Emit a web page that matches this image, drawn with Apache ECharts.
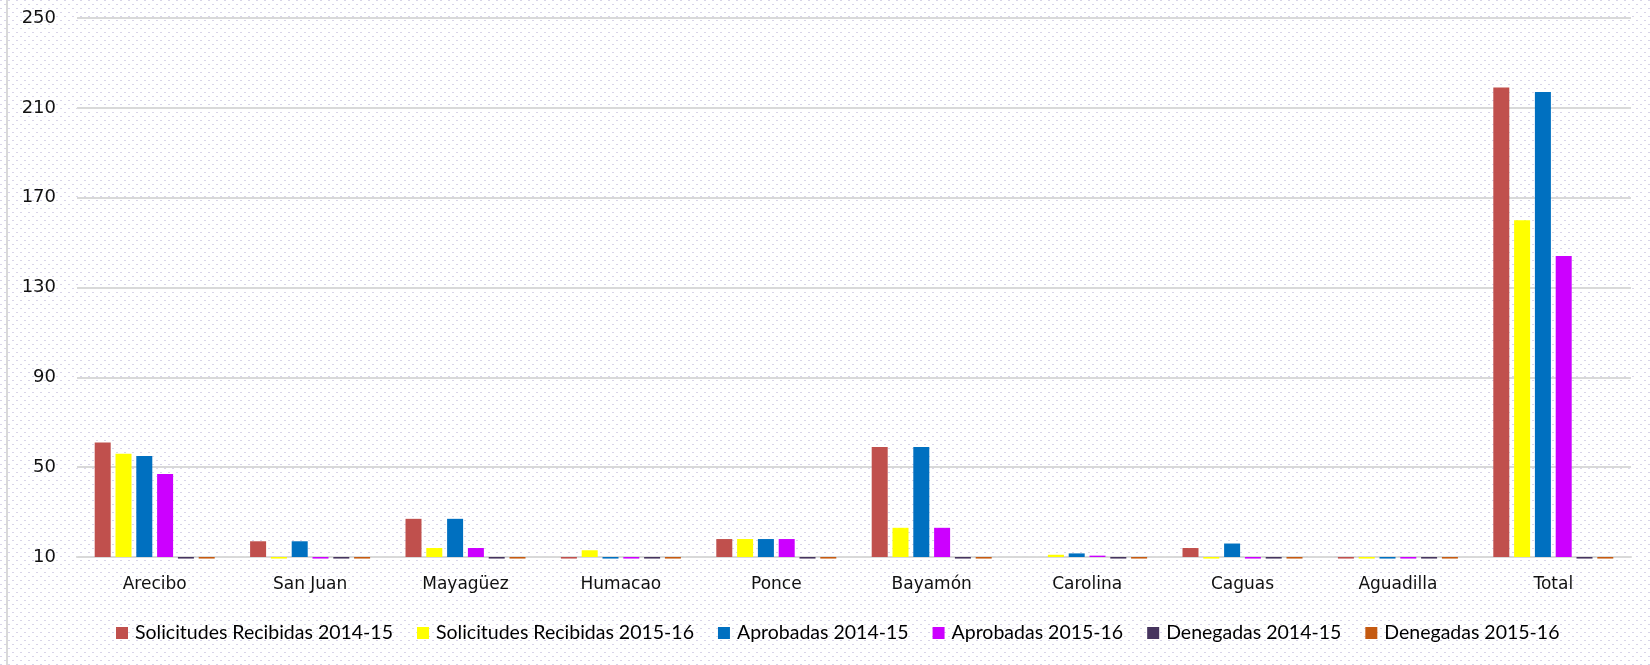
<!DOCTYPE html>
<html>
<head>
<meta charset="utf-8">
<script src="https://cdn.jsdelivr.net/npm/echarts@6/dist/echarts.min.js"></script>
<style>
  html, body { margin: 0; padding: 0; background: #fff; }
  #chart { width: 1650px; height: 665px; }
</style>
</head>
<body>
<div id="chart"></div>
<script>
// datos
const categories = ['Arecibo', 'San Juan', 'Mayagüez', 'Humacao', 'Ponce', 'Bayamón', 'Carolina', 'Caguas', 'Aguadilla', 'Total'];
const recibidas1415 = [61, 17, 27, 0, 18, 59, 10, 14, 0, 219];
const recibidas1516 = [56, 0, 14, 13, 18, 23, 11, 0, 0, 160];
const aprobadas1415 = [55, 17, 27, 0, 18, 59, 11.6, 16, 0, 217];
const aprobadas1516 = [47, 0, 14, 0, 18, 23, 10.6, 0, 0, 144];
const denegadas1415 = [0, 0, 0, 0, 0, 0, 0, 0, 0, 0];
const denegadas1516 = [0, 0, 0, 0, 0, 0, 0, 0, 0, 0];
const yTicks = [10, 50, 90, 130, 170, 210, 250];

const seriesDefs = [
  { name: 'Solicitudes Recibidas 2014-15', data: recibidas1415, color: '#C0504D' },
  { name: 'Solicitudes Recibidas 2015-16', data: recibidas1516, color: '#FFFF00' },
  { name: 'Aprobadas 2014-15', data: aprobadas1415, color: '#0070C0' },
  { name: 'Aprobadas 2015-16', data: aprobadas1516, color: '#CC00FF' },
  { name: 'Denegadas 2014-15', data: denegadas1415, color: '#46345E' },
  { name: 'Denegadas 2015-16', data: denegadas1516, color: '#C55A11' }
];

// valores bajo el minimo del eje: Excel deja una rayita bajo la base
const yMin = yTicks[0];
const stub = v => (v < yMin ? yMin - 0.7 : v);

// fondo punteado tipo trama de Excel
const tile = document.createElement('canvas');
tile.width = 8; tile.height = 8;
const tctx = tile.getContext('2d');
tctx.fillStyle = '#ffffff';
tctx.fillRect(0, 0, 8, 8);
tctx.fillStyle = '#d8d4e8';
tctx.fillRect(0, 0, 2, 1);
tctx.fillRect(4, 4, 2, 1);

const myChart = echarts.init(document.getElementById('chart'));

const option = {
  animation: false,
  backgroundColor: { image: tile, repeat: 'repeat' },
  graphic: [
    { type: 'rect', left: 6, top: 0, shape: { width: 2, height: 665 }, style: { fill: '#d9d9d9' } }
  ],
  grid: { left: 77, right: 19, top: 18, bottom: 108 },
  legend: {
    left: 116,
    top: 623,
    padding: 0,
    icon: 'rect',
    itemWidth: 12,
    itemHeight: 12,
    itemGap: 24,
    textStyle: { fontFamily: 'Lato', fontSize: 19.5, color: '#000', padding: [0, 0, 0, 2] },
    data: seriesDefs.map(s => s.name)
  },
  xAxis: {
    type: 'category',
    data: categories,
    axisTick: { show: false },
    axisLine: { lineStyle: { color: '#d9d9d9', width: 2 } },
    axisLabel: { margin: 19, fontFamily: 'DejaVu Sans', fontSize: 17, color: '#111' }
  },
  yAxis: {
    type: 'value',
    min: yTicks[0],
    max: yTicks[yTicks.length - 1],
    interval: yTicks[1] - yTicks[0],
    startValue: yMin,
    axisLine: { show: false },
    axisTick: { show: false },
    axisLabel: { margin: 21, fontFamily: 'DejaVu Sans', fontSize: 18, color: '#111' },
    splitLine: { lineStyle: { color: '#d9d9d9', width: 2 } }
  },
  series: seriesDefs.map(s => ({
    name: s.name,
    type: 'bar',
    barWidth: 16,
    barGap: '30%',
    clip: false,
    itemStyle: { color: s.color },
    data: s.data.map(stub)
  }))
};

myChart.setOption(option);
</script>
</body>
</html>
